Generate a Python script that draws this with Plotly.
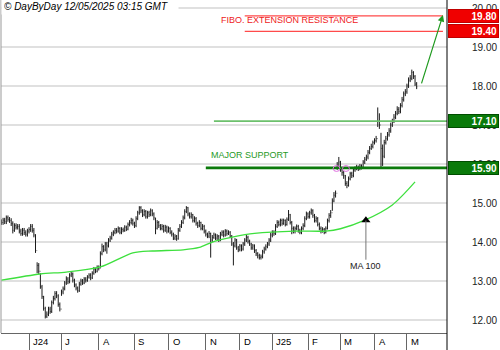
import pandas as pd
import plotly.graph_objects as go

# ---------------- data ----------------
holidays = ["2024-12-25", "2024-12-26", "2025-01-01", "2025-04-18", "2025-04-21", "2025-05-01"]
dates = pd.bdate_range("2024-05-09", "2025-05-12", freq="C", holidays=holidays)

closes = [
    14.50, 14.56, 14.52, 14.62, 14.58, 14.55, 14.47, 14.30, 14.42, 14.38,
    14.40, 14.28, 14.22, 14.30, 14.24, 14.20, 14.28, 14.32, 14.40, 14.30,
    14.18, 13.78, 13.40, 13.25, 12.85, 12.60, 12.30, 12.10, 12.15, 12.28,
    12.22, 12.45, 12.55, 12.68, 12.62, 12.40, 12.28, 12.72, 12.80, 12.95,
    13.05, 12.98, 13.15, 13.18, 13.02, 12.90, 12.82, 12.75, 12.92, 13.00,
    12.95, 13.05, 13.02, 13.10, 13.15, 13.08, 13.20, 13.30, 13.25, 13.35,
    13.32, 13.70, 13.88, 13.80, 13.95, 13.90, 14.05, 14.10, 14.20, 14.25,
    14.30, 14.28, 14.35, 14.25, 14.32, 14.30, 14.38, 14.33, 14.45, 14.50,
    14.55, 14.48, 14.42, 14.60, 14.75, 14.88, 14.80, 14.70, 14.78, 14.65,
    14.75, 14.70, 14.80, 14.72, 14.62, 14.35, 14.50, 14.42, 14.35, 14.40,
    14.30, 14.38, 14.28, 14.35, 14.25, 14.20, 14.10, 14.15, 14.08, 14.30,
    14.40, 14.50, 14.62, 14.78, 14.88, 14.72, 14.65, 14.70, 14.55, 14.60,
    14.48, 14.42, 14.50, 14.35, 14.40, 14.28, 14.20, 14.15, 14.22, 14.05,
    14.12, 14.18, 14.10, 14.15, 14.05, 14.20, 14.25, 14.18, 14.28, 14.22,
    14.25, 14.15, 13.95, 13.90, 14.05, 13.85, 13.80, 13.90, 13.82, 13.95,
    14.05, 14.12, 14.02, 13.95, 13.85, 13.90, 13.78, 13.70, 13.65, 13.60,
    13.62, 13.75, 13.82, 13.88, 13.95, 14.05, 14.18, 14.25, 14.22, 14.40,
    14.50, 14.45, 14.55, 14.48, 14.55, 14.45, 14.58, 14.70, 14.50, 14.35,
    14.28, 14.35, 14.40, 14.30, 14.25, 14.35, 14.42, 14.60, 14.72, 14.65,
    14.75, 14.80, 14.68, 14.55, 14.60, 14.45, 14.35, 14.28, 14.32, 14.25,
    14.35, 14.55, 14.68, 14.75, 15.05, 15.20, 15.25, 15.95, 16.05, 15.85,
    15.78, 15.70, 15.50, 15.45, 15.62, 15.75, 15.70, 15.85, 15.88, 15.92,
    15.88, 15.95, 15.92, 16.05, 16.12, 16.18, 16.30, 16.40, 16.45, 16.55,
    16.60, 16.65, 17.10, 17.00, 16.40, 16.20, 16.55, 16.65, 16.75, 16.85,
    17.00, 17.10, 17.20, 17.30, 17.40, 17.35, 17.50, 17.65, 17.80, 17.85,
    18.00, 18.15, 18.20, 18.35, 18.25, 18.05, 17.98,
]

highs = [
    14.58, 14.62, 14.62, 14.68, 14.68, 14.64, 14.61, 14.53, 14.48, 14.48,
    14.46, 14.46, 14.34, 14.36, 14.36, 14.30, 14.34, 14.38, 14.46, 14.46,
    14.36, 14.20, 13.48, 13.46, 13.20, 12.90, 12.62, 12.34, 12.22, 12.34,
    12.34, 12.50, 12.62, 12.74, 12.74, 12.66, 12.45, 12.78, 12.86, 13.00,
    13.12, 13.10, 13.20, 13.24, 13.22, 13.06, 12.94, 12.86, 12.98, 13.06,
    13.05, 13.10, 13.10, 13.15, 13.20, 13.20, 13.25, 13.36, 13.34, 13.40,
    13.40, 13.76, 13.96, 13.92, 14.00, 14.00, 14.10, 14.16, 14.26, 14.30,
    14.36, 14.36, 14.40, 14.38, 14.38, 14.37, 14.43, 14.42, 14.50, 14.56,
    14.62, 14.60, 14.52, 14.66, 14.80, 14.92, 14.92, 14.84, 14.84, 14.82,
    14.80, 14.80, 14.86, 14.84, 14.76, 14.62, 14.56, 14.54, 14.46, 14.46,
    14.44, 14.44, 14.42, 14.40, 14.38, 14.30, 14.24, 14.20, 14.18, 14.36,
    14.46, 14.56, 14.68, 14.84, 14.92, 14.90, 14.76, 14.76, 14.72, 14.66,
    14.64, 14.52, 14.56, 14.52, 14.46, 14.44, 14.32, 14.24, 14.28, 14.24,
    14.18, 14.24, 14.22, 14.20, 14.18, 14.26, 14.30, 14.30, 14.33, 14.32,
    14.30, 14.28, 14.18, 14.00, 14.10, 14.08, 13.90, 13.95, 13.94, 14.00,
    14.10, 14.18, 14.16, 14.06, 13.98, 13.95, 13.94, 13.82, 13.74, 13.70,
    13.68, 13.80, 13.88, 13.94, 14.00, 14.10, 14.24, 14.30, 14.30, 14.46,
    14.56, 14.55, 14.60, 14.60, 14.60, 14.58, 14.63, 14.82, 14.72, 14.54,
    14.40, 14.40, 14.45, 14.44, 14.34, 14.40, 14.48, 14.66, 14.78, 14.76,
    14.80, 14.86, 14.84, 14.72, 14.66, 14.64, 14.50, 14.40, 14.38, 14.36,
    14.40, 14.60, 14.74, 14.82, 15.12, 15.28, 15.32, 16.05, 16.18, 16.08,
    15.90, 15.82, 15.72, 15.56, 15.68, 15.80, 15.80, 15.90, 15.94, 15.98,
    15.96, 16.00, 15.99, 16.10, 16.18, 16.24, 16.36, 16.46, 16.52, 16.60,
    16.66, 16.72, 17.45, 17.30, 16.80, 16.50, 16.62, 16.72, 16.82, 16.92,
    17.06, 17.16, 17.28, 17.36, 17.48, 17.46, 17.56, 17.72, 17.86, 17.92,
    18.06, 18.22, 18.28, 18.42, 18.38, 18.28, 18.10,
]

lows = [
    14.44, 14.44, 14.46, 14.46, 14.52, 14.49, 14.41, 14.22, 14.26, 14.32,
    14.32, 14.22, 14.16, 14.16, 14.18, 14.14, 14.14, 14.22, 14.26, 14.24,
    14.12, 13.72, 13.20, 13.18, 12.80, 12.54, 12.24, 12.04, 12.05, 12.10,
    12.16, 12.18, 12.40, 12.50, 12.56, 12.34, 12.22, 12.62, 12.66, 12.76,
    12.90, 12.92, 12.94, 13.10, 12.96, 12.84, 12.76, 12.70, 12.72, 12.88,
    12.90, 12.92, 12.96, 12.98, 13.06, 13.02, 13.05, 13.16, 13.20, 13.22,
    13.27, 13.34, 13.66, 13.74, 13.76, 13.70, 13.86, 14.00, 14.06, 14.15,
    14.20, 14.22, 14.24, 14.20, 14.20, 14.25, 14.26, 14.28, 14.30, 14.40,
    14.45, 14.42, 14.36, 14.38, 14.56, 14.70, 14.74, 14.64, 14.66, 14.60,
    14.60, 14.64, 14.66, 14.66, 14.56, 14.20, 14.32, 14.36, 14.30, 14.30,
    14.24, 14.26, 14.22, 14.24, 14.20, 14.14, 14.05, 14.05, 14.03, 14.06,
    14.26, 14.36, 14.46, 14.58, 14.74, 14.66, 14.60, 14.60, 14.50, 14.50,
    14.42, 14.36, 14.38, 14.30, 14.30, 14.22, 14.14, 14.10, 14.10, 13.60,
    14.00, 14.08, 14.05, 14.05, 14.00, 14.02, 14.15, 14.12, 14.14, 14.16,
    14.18, 14.10, 13.90, 13.40, 13.86, 13.80, 13.74, 13.76, 13.76, 13.78,
    13.90, 14.00, 13.96, 13.90, 13.80, 13.80, 13.72, 13.64, 13.58, 13.55,
    13.55, 13.58, 13.70, 13.78, 13.84, 13.90, 14.00, 14.12, 14.16, 14.18,
    14.36, 14.40, 14.40, 14.42, 14.44, 14.40, 14.42, 14.54, 14.45, 14.20,
    14.22, 14.22, 14.30, 14.24, 14.20, 14.20, 14.30, 14.38, 14.56, 14.60,
    14.60, 14.70, 14.62, 14.50, 14.50, 14.40, 14.30, 14.22, 14.24, 14.20,
    14.22, 14.32, 14.50, 14.62, 14.80, 15.02, 15.14, 15.85, 15.88, 15.80,
    15.70, 15.62, 15.44, 15.38, 15.42, 15.58, 15.64, 15.66, 15.80, 15.84,
    15.82, 15.84, 15.86, 15.88, 16.00, 16.08, 16.12, 16.25, 16.36, 16.40,
    16.50, 16.55, 16.95, 16.90, 15.92, 15.95, 16.15, 16.50, 16.60, 16.70,
    16.80, 16.95, 17.05, 17.15, 17.25, 17.28, 17.30, 17.45, 17.60, 17.74,
    17.80, 17.95, 18.10, 18.15, 18.18, 18.00, 17.92,
]

# previous session close used as the open of each bar
opens = [closes[0]] + closes[:-1]

# 100-day moving average, read at sample bars
ma_idx = [0, 24, 40, 61, 81, 93, 112, 122, 130, 143, 156, 181, 200, 209, 224, 241, 255]
ma_val = [13.02, 13.18, 13.23, 13.36, 13.72, 13.77, 13.80, 13.86, 14.00, 14.13,
          14.22, 14.28, 14.28, 14.34, 14.56, 14.95, 15.54]

month_labels = ["J24", "J", "A", "S", "O", "N", "D", "J25", "F", "M", "A", "M"]
y_ticks = [12, 13, 14, 15, 16, 17, 18, 19, 20]

levels = [19.80, 19.40, 17.10, 15.90]
level_names = ["FIBO. EXTENSION RESISTANCE", "", "", "MAJOR SUPPORT"]

# ---------------- figure ----------------
n = min(len(dates), len(closes))
x = list(range(n))

month_starts = []
seen = set()
for i, d in enumerate(dates[:n]):
    key = (d.year, d.month)
    if key not in seen:
        seen.add(key)
        if i > 0:
            month_starts.append(i)

X0, X1 = -0.28, 274.7
Y0, Y1 = 11.667, 20.205
FONT = "Liberation Sans, Arial, sans-serif"

fig = go.Figure()

fig.add_trace(go.Scatter(x=ma_idx, y=ma_val, mode="lines",
                         line=dict(color="#3ee03e", width=1.3, shape="spline", smoothing=0.8),
                         hoverinfo="skip"))

fig.add_trace(go.Ohlc(x=x, open=opens[:n], high=highs[:n], low=lows[:n], close=closes[:n],
                      increasing=dict(line=dict(color="#1a1a1a", width=1)),
                      decreasing=dict(line=dict(color="#1a1a1a", width=1)),
                      tickwidth=0.3, hoverinfo="skip"))

shapes = []
ann = []

# level lines
lvl_style = [
    dict(start=150, end=272.2, color="#ff4a4a", width=1.2),
    dict(start=150, end=272.2, color="#ff4a4a", width=1.2),
    dict(start=131, end=X1, color="#6cc06c", width=1.6),
    dict(start=126, end=X1, color="#0b7a0b", width=2.6),
]
for lv, st in zip(levels, lvl_style):
    shapes.append(dict(type="line", xref="x", yref="y", x0=st["start"], x1=st["end"],
                       y0=lv, y1=lv, line=dict(color=st["color"], width=st["width"])))

box_colors = ["#f00000", "#f00000", "#0a7a0a", "#0a7a0a"]
box_borders = ["#c00000", "#c00000", "#004d00", "#004d00"]
for lv, bc, bb in zip(levels, box_colors, box_borders):
    ann.append(dict(xref="paper", yref="y", x=1, y=lv, xanchor="left", yanchor="middle",
                    xshift=1, text="<b>%.2f</b>" % lv, showarrow=False, align="right",
                    width=47, height=10, bgcolor=bc, bordercolor=bb, borderwidth=1, borderpad=1,
                    font=dict(family=FONT, size=10, color="white")))

# level texts
ann.append(dict(xref="x", yref="y", x=134, y=19.70, xanchor="left", yanchor="middle",
                text=level_names[0], showarrow=False,
                font=dict(family=FONT, size=9, color="#ee2222")))
ann.append(dict(xref="x", yref="y", x=128, y=16.22, xanchor="left", yanchor="middle",
                text=level_names[3], showarrow=False,
                font=dict(family=FONT, size=9, color="#1f9a1f")))

# pink marks on the support line
for cx in [206.6, 212.4]:
    shapes.append(dict(type="circle", xref="x", yref="y", x0=cx - 2.1, x1=cx + 2.1,
                       y0=15.885 - 0.075, y1=15.885 + 0.075,
                       line=dict(color="#e070e0", width=1)))

# green target arrow
ann.append(dict(xref="x", yref="y", x=272.2, y=19.82, axref="x", ayref="y", ax=258.7, ay=18.03,
                text="", showarrow=True, arrowhead=2, arrowsize=1.1, arrowwidth=1.2,
                arrowcolor="#1f9a1f"))

# MA 100 pointer
ann.append(dict(xref="x", yref="y", x=224.7, y=14.55, axref="x", ayref="y", ax=224.7, ay=13.38,
                text="MA 100", showarrow=True, arrowhead=0, arrowwidth=1, arrowcolor="#777",
                font=dict(family=FONT, size=9, color="#222")))
fig.add_trace(go.Scatter(x=[224.7], y=[14.56], mode="markers",
                         marker=dict(symbol="triangle-up", size=8, color="black"),
                         hoverinfo="skip"))

# header
ann.append(dict(xref="paper", yref="paper", x=0, y=0.979, xanchor="left", yanchor="middle",
                text="<i>© DayByDay 12/05/2025 03:15 GMT</i>", showarrow=False, align="left",
                width=172, bgcolor="white", borderpad=2,
                font=dict(family=FONT, size=10, color="black")))

# month labels
for ms, lab in zip(month_starts, month_labels):
    ann.append(dict(xref="x", yref="paper", x=ms, y=-0.025, xanchor="left", yanchor="middle",
                    xshift=2, text=lab, showarrow=False,
                    font=dict(family=FONT, size=9.5, color="black")))

# borders
shapes.append(dict(type="line", xref="paper", yref="paper", x0=0, x1=0, y0=0, y1=1,
                   line=dict(color="#999", width=1)))
shapes.append(dict(type="line", xref="paper", yref="paper", x0=1, x1=1, y0=-0.06, y1=1,
                   line=dict(color="black", width=1)))

fig.update_layout(
    width=500, height=350,
    margin=dict(l=1, r=53, t=0, b=17),
    paper_bgcolor="white", plot_bgcolor="white",
    showlegend=False,
    shapes=shapes, annotations=ann,
    xaxis=dict(range=[X0, X1], showgrid=False, zeroline=False, rangeslider=dict(visible=False),
               tickvals=month_starts, showticklabels=False, ticks="outside", ticklen=17,
               tickcolor="#666", tickwidth=1, showline=True, linecolor="#666", linewidth=1),
    yaxis=dict(range=[Y0, Y1], side="right", tickvals=y_ticks,
               ticktext=["%.2f" % v for v in y_ticks], showgrid=True, gridcolor="#e0e0e0",
               gridwidth=1.5, zeroline=False, ticks="", ticklabelstandoff=24,
               tickfont=dict(family=FONT, size=10, color="#222"), showline=False),
)

fig.write_html("out.html")
